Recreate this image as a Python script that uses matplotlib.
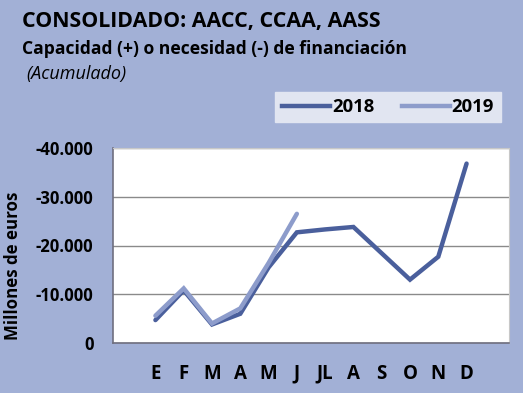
import matplotlib
matplotlib.use("Agg")
import matplotlib.pyplot as plt
from matplotlib.ticker import FuncFormatter, FixedLocator
from matplotlib.lines import Line2D

months = ["E", "F", "M", "A", "M", "J", "JL", "A", "S", "O", "N", "D"]
s2018 = [-4700, -10800, -3800, -6000, -15500, -22700, -23300, -23800, -18400, -13000, -17700, -36800]
s2019 = [-5600, -11200, -4000, -7100, -16400, -26500]
yticks = [0, -10000, -20000, -30000, -40000]

BG = "#a2b0d6"
C18 = "#4a5f9c"
C19 = "#8d9ccb"

plt.rcParams['font.family'] = ['Open Sans', 'DejaVu Sans']

W, H = 523, 393
fig = plt.figure(figsize=(W/100, H/100), dpi=100, facecolor=BG)
ax = fig.add_axes([113/W, 1-343/H, (509-113)/W, (343-148)/H])
ax.set_facecolor("white")

x = list(range(len(months)))
ax.plot(x, s2018, color=C18, lw=3.2, solid_capstyle='round', solid_joinstyle='miter', zorder=3)
ax.plot(x[:len(s2019)], s2019, color=C19, lw=3.2, solid_capstyle='round', solid_joinstyle='miter', zorder=3)

ax.set_xlim(-1.5, 12.5)
ax.set_ylim(0, -40000)
ax.yaxis.set_major_locator(FixedLocator(yticks))
def fmt(v, p):
    v = int(round(v))
    if v == 0:
        return "0"
    s = f"{abs(v):,}".replace(",", ".")
    return ("-" if v < 0 else "") + s
ax.yaxis.set_major_formatter(FuncFormatter(fmt))
ax.set_xticks(x)
ax.set_xticklabels(months)
ax.grid(axis='y', color="#8a8a8a", lw=1.0, zorder=1)
ax.tick_params(axis='both', length=0)
ax.tick_params(axis='y', pad=14, labelsize=12)
ax.tick_params(axis='x', pad=15, labelsize=13.5)
for lab in ax.get_xticklabels() + ax.get_yticklabels():
    lab.set_fontweight('bold')
for side in ['top', 'right']:
    ax.spines[side].set_color("#c8c8c8")
    ax.spines[side].set_linewidth(0.8)
for side in ['left', 'bottom']:
    ax.spines[side].set_color("#6f6f7f")
    ax.spines[side].set_linewidth(1.2)

fig.text(13/W, 1-266/H, "Millones de euros", rotation=90, ha='center', va='center',
         fontsize=12.2, fontweight='bold')

fig.text(22/W, 1-27.5/H, "CONSOLIDADO: AACC, CCAA, AASS", fontsize=15.4, fontweight='bold',
         va='baseline', ha='left')
fig.text(22/W, 1-53.5/H, "Capacidad (+) o necesidad (-) de financiación", fontsize=12.6,
         fontweight='bold', va='baseline', ha='left')
fig.text(26/W, 1-78.5/H, "(Acumulado)", fontsize=13, style='italic', va='baseline', ha='left')

handles = [Line2D([], [], color=C18, lw=3.2), Line2D([], [], color=C19, lw=3.2)]
leg = fig.legend(handles, ["2018", "2019"], loc='center', bbox_to_anchor=((272+504)/2/W, 1-107/H),
                 ncol=2, frameon=True, fancybox=False, handlelength=2.6, handletextpad=0.1,
                 columnspacing=1.5, prop={'weight': 'bold', 'size': 13.3}, borderpad=0.35)
leg.get_frame().set_facecolor("#e1e5f1")
leg.get_frame().set_edgecolor("#e1e5f1")
leg.get_frame().set_alpha(1)

fig.savefig("out.png", dpi=100, facecolor=BG)
